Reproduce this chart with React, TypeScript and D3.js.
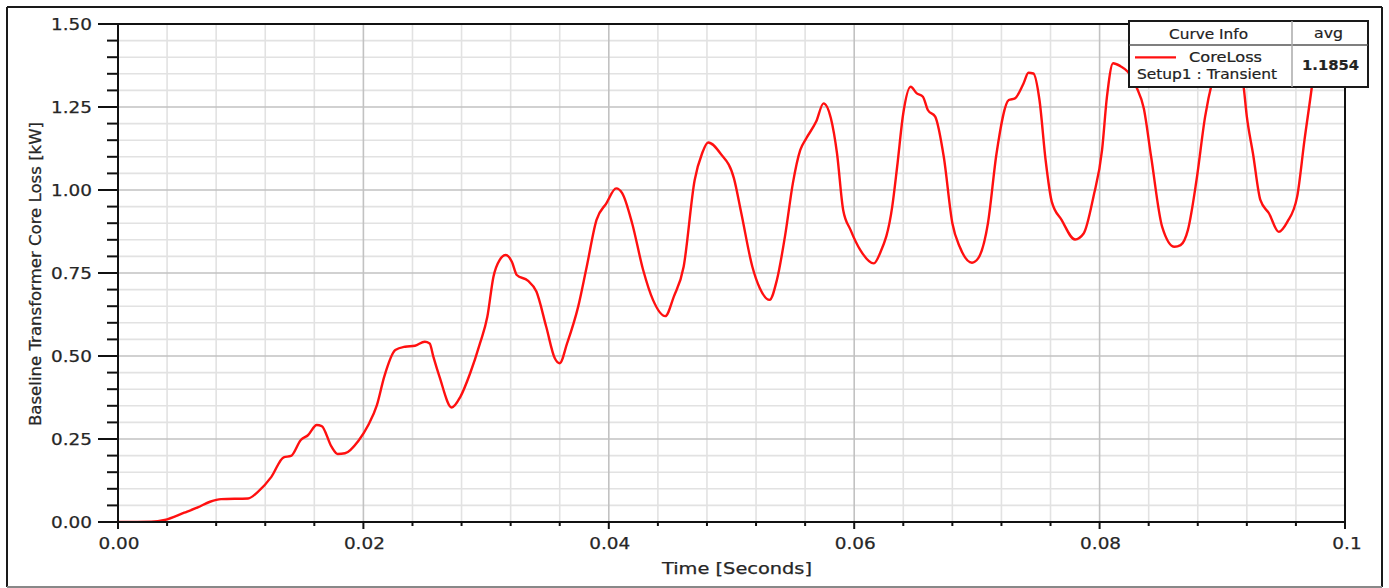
import React from "react";
import * as d3 from "d3";

const timeS = [
  0, 0.0027, 0.0038, 0.0054, 0.0065, 0.0075, 0.0084, 0.0106, 0.0114, 0.0125,
  0.0135, 0.0141, 0.0149, 0.0155, 0.0162, 0.0166, 0.0174, 0.0179, 0.0185, 0.0196,
  0.0204, 0.0211, 0.0217, 0.0226, 0.0234, 0.0242, 0.025, 0.0254, 0.0257, 0.0262,
  0.0272, 0.0279, 0.0287, 0.0295, 0.0301, 0.0306, 0.0311, 0.0316, 0.0321, 0.0325,
  0.0334, 0.0341, 0.0349, 0.0356, 0.036, 0.0366, 0.0375, 0.0382, 0.039, 0.0398,
  0.0406, 0.0411, 0.0419, 0.0428, 0.0436, 0.0446, 0.0453, 0.0461, 0.047, 0.0476,
  0.0481, 0.0491, 0.0502, 0.0508, 0.0517, 0.0523, 0.0531, 0.0537, 0.0544, 0.055,
  0.0556, 0.0561, 0.0569, 0.0575, 0.0581, 0.0586, 0.0591, 0.0597, 0.0605, 0.0616,
  0.0621, 0.0631, 0.0635, 0.064, 0.0646, 0.0651, 0.0656, 0.066, 0.0666, 0.0673,
  0.068, 0.0686, 0.0696, 0.0701, 0.0709, 0.0716, 0.0726, 0.0731, 0.0738, 0.0742,
  0.0746, 0.0751, 0.0756, 0.0761, 0.0769, 0.078, 0.0787, 0.0795, 0.0802, 0.0806,
  0.0811, 0.0817, 0.0823, 0.083, 0.0836, 0.0842, 0.0851, 0.0861, 0.0866, 0.0872,
  0.0879, 0.0886, 0.0892, 0.0898, 0.0905, 0.0911, 0.0917, 0.092, 0.0925, 0.0931,
  0.0938, 0.0946, 0.0953, 0.0961, 0.0967, 0.0973, 0.0976,
];

const coreLossKW = [
  0, 0.001, 0.006, 0.028, 0.044, 0.061, 0.069, 0.071, 0.091, 0.136,
  0.195, 0.199, 0.247, 0.262, 0.292, 0.289, 0.227, 0.205, 0.207, 0.245,
  0.292, 0.352, 0.438, 0.518, 0.528, 0.531, 0.543, 0.538, 0.498, 0.438,
  0.345, 0.377, 0.448, 0.538, 0.618, 0.739, 0.789, 0.804, 0.784, 0.744,
  0.727, 0.694, 0.588, 0.493, 0.478, 0.538, 0.648, 0.769, 0.91, 0.96,
  1.005, 0.99, 0.9, 0.759, 0.669, 0.62, 0.679, 0.769, 1.03, 1.11,
  1.143, 1.11, 1.035, 0.93, 0.769, 0.705, 0.669, 0.729, 0.87, 1.02,
  1.12, 1.156, 1.206, 1.261, 1.216, 1.11, 0.94, 0.88, 0.819, 0.779,
  0.809, 0.95, 1.07, 1.231, 1.311, 1.291, 1.281, 1.241, 1.221, 1.1,
  0.9, 0.829, 0.781, 0.794, 0.9, 1.11, 1.271, 1.276, 1.321, 1.353,
  1.351, 1.271, 1.09, 0.965, 0.91, 0.851, 0.869, 0.98, 1.12, 1.281,
  1.382, 1.373, 1.356, 1.31, 1.246, 1.1, 0.889, 0.829, 0.834, 0.88,
  1.03, 1.221, 1.33, 1.4, 1.42, 1.39, 1.321, 1.221, 1.11, 0.97,
  0.93, 0.874, 0.904, 0.98, 1.151, 1.311, 1.4,
];

const xTickLabels = ["0.00", "0.02", "0.04", "0.06", "0.08", "0.1"];
const yTickLabels = ["0.00", "0.25", "0.50", "0.75", "1.00", "1.25", "1.50"];
const xTitle = "Time [Seconds]";
const yTitle = "Baseline Transformer Core Loss [kW]";
const legendHeader = ["Curve Info", "avg"];
const legendName = "CoreLoss";
const legendSetup = "Setup1 : Transient";
const legendAvg = "1.1854";

const FONT = "'DejaVu Sans', Verdana, sans-serif";
const charW: Record<string, number> = { ".": 0.318 };
function numWidth(s: string, fs: number) {
  let w = 0;
  for (const c of s) w += charW[c] ?? 0.636;
  return w * fs;
}

export default function App() {
  const W = 1389;
  const H = 588;
  const L = 118, R = 1345, T = 24, B = 522;
  const x = d3.scaleLinear().domain([0, 0.1]).range([L, R]);
  const y = d3.scaleLinear().domain([0, 1.5]).range([B, T]);

  const xMinor = d3.range(0, 0.1 + 1e-9, 0.004);
  const xMajor = xTickLabels.map((s) => +s);
  const yMinor = d3.range(0, 1.5 + 1e-9, 0.05);
  const yMajor = yTickLabels.map((s) => +s);

  const data = timeS.map((t, i) => [t, coreLossKW[i]] as [number, number]);
  const line = d3
    .line<[number, number]>()
    .x((d) => x(d[0]))
    .y((d) => y(d[1]))
    .curve(d3.curveMonotoneX);

  const isMajorX = (v: number) => xMajor.some((m) => Math.abs(m - v) < 1e-6);
  const isMajorY = (v: number) => yMajor.some((m) => Math.abs(m - v) < 1e-6);

  const fs = 16;
  const stretch = 1.15;
  const txt = "#262626";

  const lg = { x0: 1129, x1: 1368, y0: 21, y1: 87, ymid: 45, xmid: 1292 };

  return (
    <svg
      width={W}
      height={H}
      style={{ position: "absolute", left: 0, top: 0, background: "#fff" }}
      fontFamily={FONT}
    >
      <rect x={0} y={0} width={W} height={H} fill="#fff" />
      <line x1={7} y1={7} x2={1382} y2={7} stroke="#1a1a1a" strokeWidth={2} />
      <line x1={7} y1={7} x2={7} y2={587} stroke="#1a1a1a" strokeWidth={2} />
      <line x1={1382} y1={7} x2={1382} y2={587} stroke="#1a1a1a" strokeWidth={2} />
      <line x1={7} y1={587} x2={1382} y2={587} stroke="#888" strokeWidth={2} />

      <defs>
        <clipPath id="plotclip">
          <rect x={L} y={T} width={R - L} height={B - T} />
        </clipPath>
      </defs>

      <g stroke="#e2e2e2" strokeWidth={1.6}>
        {xMinor.filter((v) => !isMajorX(v)).map((v, i) => (
          <line key={"xm" + i} x1={x(v)} x2={x(v)} y1={T} y2={B} />
        ))}
        {yMinor.filter((v) => !isMajorY(v)).map((v, i) => (
          <line key={"ym" + i} x1={L} x2={R} y1={y(v)} y2={y(v)} />
        ))}
      </g>
      <g stroke="#c2c2c2" strokeWidth={1.6}>
        {xMajor.map((v, i) => (
          <line key={"xM" + i} x1={x(v)} x2={x(v)} y1={T} y2={B} />
        ))}
        {yMajor.map((v, i) => (
          <line key={"yM" + i} x1={L} x2={R} y1={y(v)} y2={y(v)} />
        ))}
      </g>

      <path
        d={line(data) ?? ""}
        fill="none"
        stroke="#ff1010"
        strokeWidth={2.4}
        strokeLinejoin="round"
        clipPath="url(#plotclip)"
      />

      <g stroke="#111" strokeWidth={2}>
        <line x1={L} x2={L} y1={T} y2={B + 1} />
        <line x1={L - 1} x2={R + 1} y1={B} y2={B} />
        <line x1={R} x2={R} y1={T} y2={B + 1} />
        <line x1={98} x2={R + 1} y1={T} y2={T} />
        {yMinor.map((v, i) => (
          <line
            key={"yt" + i}
            x1={isMajorY(v) ? 98 : 107}
            x2={L}
            y1={y(v)}
            y2={y(v)}
          />
        ))}
        {xMinor.map((v, i) => (
          <line
            key={"xt" + i}
            x1={x(v)}
            x2={x(v)}
            y1={B}
            y2={B + (isMajorX(v) ? 7 : 4)}
          />
        ))}
      </g>

      <g fill={txt} fontSize={fs} stroke={txt} strokeWidth={0.25}>
        {yTickLabels.map((s, i) => (
          <text
            key={"yl" + i}
            x={92}
            y={y(+s) + 0.365 * fs}
            textAnchor="end"
            textLength={numWidth(s, fs) * stretch}
            lengthAdjust="spacingAndGlyphs"
          >
            {s}
          </text>
        ))}
        {xTickLabels.map((s, i) => (
          <text
            key={"xl" + i}
            x={x(+s) + (s === "0.1" ? 2 : 1)}
            y={549}
            textAnchor="middle"
            textLength={numWidth(s, fs) * stretch}
            lengthAdjust="spacingAndGlyphs"
          >
            {s}
          </text>
        ))}
        <text
          x={737}
          y={574}
          fontSize={16}
          textAnchor="middle"
          textLength={150}
          lengthAdjust="spacingAndGlyphs"
        >
          {xTitle}
        </text>
        <text
          transform="translate(41,274) rotate(-90)"
          fontSize={16}
          textAnchor="middle"
          textLength={304}
          lengthAdjust="spacingAndGlyphs"
        >
          {yTitle}
        </text>
      </g>

      <g>
        <rect
          x={lg.x0}
          y={lg.y0}
          width={lg.x1 - lg.x0}
          height={lg.y1 - lg.y0}
          fill="#fff"
          stroke="#1a1a1a"
          strokeWidth={2}
        />
        <line x1={lg.x0} x2={lg.x1} y1={lg.ymid} y2={lg.ymid} stroke="#555" strokeWidth={1.5} />
        <line x1={lg.xmid} x2={lg.xmid} y1={lg.y0} y2={lg.y1} stroke="#aaa" strokeWidth={1.5} />
        <line x1={1135} x2={1176} y1={57.3} y2={57.3} stroke="#ff1010" strokeWidth={2.2} />
        <g fontSize={14} fill="#222" stroke="#222" strokeWidth={0.2}>
          <text
            x={1208.5}
            y={33.7 + 0.365 * 14}
            textAnchor="middle"
            textLength={79}
            lengthAdjust="spacingAndGlyphs"
          >
            {legendHeader[0]}
          </text>
          <text
            x={1328.5}
            y={33.7 + 0.3 * 14}
            textAnchor="middle"
            textLength={29}
            lengthAdjust="spacingAndGlyphs"
          >
            {legendHeader[1]}
          </text>
          <text
            x={1225.5}
            y={57.3 + 0.365 * 14}
            textAnchor="middle"
            textLength={73}
            lengthAdjust="spacingAndGlyphs"
          >
            {legendName}
          </text>
          <text
            x={1207}
            y={74 + 0.365 * 14}
            textAnchor="middle"
            textLength={140}
            lengthAdjust="spacingAndGlyphs"
          >
            {legendSetup}
          </text>
          <text
            x={1330.5}
            y={65 + 0.365 * 14}
            textAnchor="middle"
            fontWeight="bold"
            textLength={57}
            lengthAdjust="spacingAndGlyphs"
          >
            {legendAvg}
          </text>
        </g>
      </g>
    </svg>
  );
}
